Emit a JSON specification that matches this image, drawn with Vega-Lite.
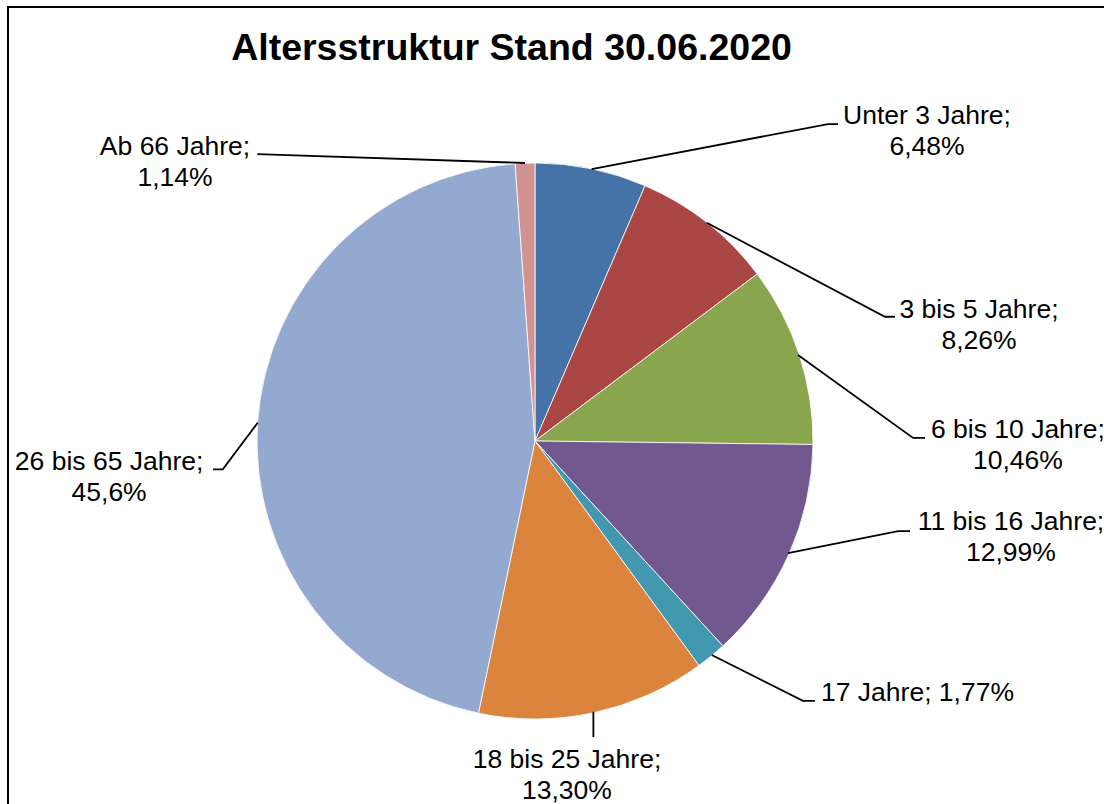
{
  "$schema": "https://vega.github.io/schema/vega-lite/v6.json",
  "autosize": {"type": "none"},
  "width": 1097,
  "height": 798,
  "padding": {"left": 8, "top": 7, "right": 0, "bottom": 0},
  "background": "#ffffff",
  "config": {
    "view": {"stroke": "#000000", "strokeWidth": 2},
    "font": "Liberation Sans"
  },
  "title": {
    "text": "Altersstruktur Stand 30.06.2020",
    "font": "Liberation Sans",
    "fontSize": 37.5,
    "fontWeight": "bold",
    "color": "#000000",
    "anchor": "middle",
    "frame": "group",
    "baseline": "alphabetic",
    "offset": -51,
    "dx": -45,
    "dy": 39
  },
  "data": {
    "values": [
      {"name": "Unter 3 Jahre", "pct": 6.48, "order": 1, "label": "Unter 3 Jahre;\n6,48%", "lx": 1.410, "ly": 1.169},
      {"name": "3 bis 5 Jahre", "pct": 8.26, "order": 2, "label": "3 bis 5 Jahre;\n8,26%", "lx": 1.597, "ly": 0.473},
      {"name": "6 bis 10 Jahre", "pct": 10.46, "order": 3, "label": "6 bis 10 Jahre;\n10,46%", "lx": 1.737, "ly": 0.040},
      {"name": "11 bis 16 Jahre", "pct": 12.99, "order": 4, "label": "11 bis 16 Jahre;\n12,99%", "lx": 1.712, "ly": -0.293},
      {"name": "17 Jahre", "pct": 1.77, "order": 5, "label": "17 Jahre; 1,77%", "lx": 1.376, "ly": -0.906},
      {"name": "18 bis 25 Jahre", "pct": 13.30, "order": 6, "label": "18 bis 25 Jahre;\n13,30%", "lx": 0.115, "ly": -1.149},
      {"name": "26 bis 65 Jahre", "pct": 45.6, "order": 7, "label": "26 bis 65 Jahre;\n45,6%", "lx": -1.532, "ly": -0.075},
      {"name": "Ab 66 Jahre", "pct": 1.14, "order": 8, "label": "Ab 66 Jahre;\n1,14%", "lx": -1.295, "ly": 1.056}
    ]
  },
  "layer": [
    {
      "mark": {"type": "arc", "outerRadius": 278, "stroke": "#ffffff", "strokeWidth": 0.8},
      "encoding": {
        "x": {"datum": 0, "type": "quantitative", "scale": {"domain": [-1.8957, 2.0504], "nice": false, "zero": false}, "axis": null},
        "y": {"datum": 0, "type": "quantitative", "scale": {"domain": [-1.3094, 1.5612], "nice": false, "zero": false}, "axis": null},
        "theta": {"field": "pct", "type": "quantitative", "stack": true},
        "order": {"field": "order", "type": "quantitative", "sort": "ascending"},
        "color": {
          "field": "name",
          "type": "nominal",
          "legend": null,
          "scale": {
            "domain": ["Unter 3 Jahre", "3 bis 5 Jahre", "6 bis 10 Jahre", "11 bis 16 Jahre", "17 Jahre", "18 bis 25 Jahre", "26 bis 65 Jahre", "Ab 66 Jahre"],
            "range": ["#4572A7", "#AA4643", "#89A54E", "#71588F", "#4198AF", "#DB843D", "#93A9CF", "#D19392"]
          }
        }
      }
    },
    {
      "data": {
        "values": [
          {"id": 1, "seq": 1, "px": 0.204, "py": 0.978},
          {"id": 1, "seq": 2, "px": 1.054, "py": 1.140},
          {"id": 1, "seq": 3, "px": 1.090, "py": 1.140},
          {"id": 2, "seq": 1, "px": 0.618, "py": 0.785},
          {"id": 2, "seq": 2, "px": 1.259, "py": 0.447},
          {"id": 2, "seq": 3, "px": 1.295, "py": 0.447},
          {"id": 3, "seq": 1, "px": 0.946, "py": 0.309},
          {"id": 3, "seq": 2, "px": 1.360, "py": 0.011},
          {"id": 3, "seq": 3, "px": 1.403, "py": 0.011},
          {"id": 4, "seq": 1, "px": 0.910, "py": -0.403},
          {"id": 4, "seq": 2, "px": 1.306, "py": -0.324},
          {"id": 4, "seq": 3, "px": 1.349, "py": -0.324},
          {"id": 5, "seq": 1, "px": 0.636, "py": -0.770},
          {"id": 5, "seq": 2, "px": 0.964, "py": -0.935},
          {"id": 5, "seq": 3, "px": 1.007, "py": -0.935},
          {"id": 6, "seq": 1, "px": 0.210, "py": -0.974},
          {"id": 6, "seq": 2, "px": 0.210, "py": -1.065},
          {"id": 7, "seq": 1, "px": -0.997, "py": 0.066},
          {"id": 7, "seq": 2, "px": -1.123, "py": -0.102},
          {"id": 7, "seq": 3, "px": -1.158, "py": -0.102},
          {"id": 8, "seq": 1, "px": -0.036, "py": 1.000},
          {"id": 8, "seq": 2, "px": -0.999, "py": 1.032}
        ]
      },
      "mark": {"type": "line", "color": "#000000", "strokeWidth": 1.8},
      "encoding": {
        "x": {"field": "px", "type": "quantitative", "scale": {"domain": [-1.8957, 2.0504], "nice": false, "zero": false}, "axis": null},
        "y": {"field": "py", "type": "quantitative", "scale": {"domain": [-1.3094, 1.5612], "nice": false, "zero": false}, "axis": null},
        "detail": {"field": "id", "type": "nominal"},
        "order": {"field": "seq", "type": "quantitative"}
      }
    },
    {
      "mark": {"type": "text", "font": "Liberation Sans", "fontSize": 26.5, "lineBreak": "\n", "lineHeight": 31, "align": "center", "baseline": "middle", "color": "#000000"},
      "encoding": {
        "x": {"field": "lx", "type": "quantitative", "scale": {"domain": [-1.8957, 2.0504], "nice": false, "zero": false}, "axis": null},
        "y": {"field": "ly", "type": "quantitative", "scale": {"domain": [-1.3094, 1.5612], "nice": false, "zero": false}, "axis": null},
        "text": {"field": "label", "type": "nominal"}
      }
    }
  ]
}
